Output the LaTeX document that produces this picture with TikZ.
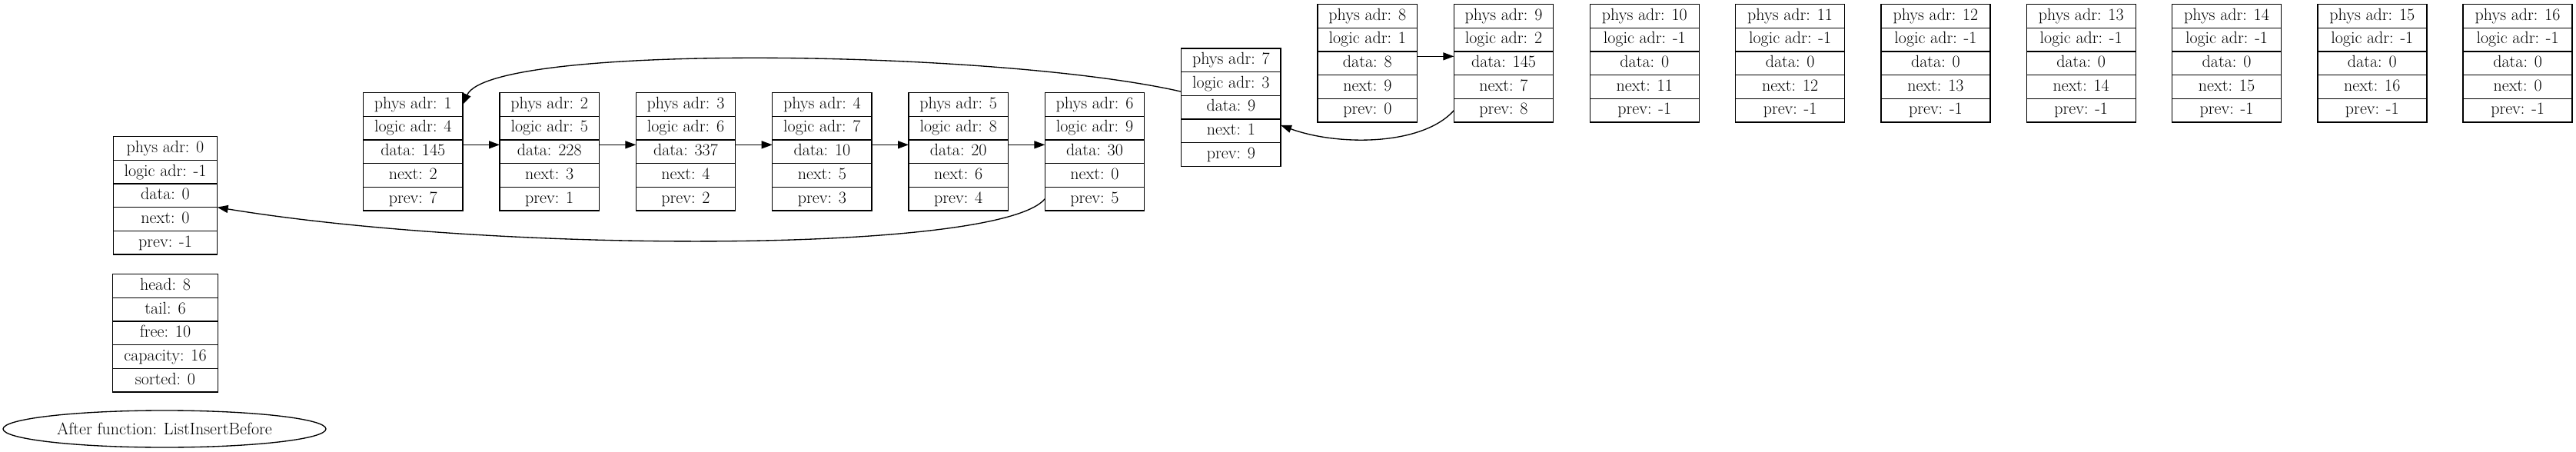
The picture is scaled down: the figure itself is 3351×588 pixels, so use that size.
\documentclass[tikz,border=0pt]{standalone}
\usepackage{tikz}
\usetikzlibrary{positioning, arrows.meta, shapes.geometric}

\tikzset{
  field/.style={draw, line width=1pt, outer sep=0pt, inner xsep=2pt, inner ysep=0pt,
    minimum height=23pt, text height=11.5pt, text depth=3.5pt,
    font=\fontsize{16.5}{19.8}\selectfont},
  ptr/.style={-{Triangle[length=10.5pt, width=7.5pt]}, line width=1pt}
}

% one cell of the list: name, centre of the top row, width, five rows
\newcommand{\listrec}[8]{
  \node[field, minimum width=#3] (#1-1) at (#2) {#4};
  \node[field, minimum width=#3, below=0pt of #1-1] (#1-2) {#5};
  \node[field, minimum width=#3, below=0pt of #1-2] (#1-3) {#6};
  \node[field, minimum width=#3, below=0pt of #1-3] (#1-4) {#7};
  \node[field, minimum width=#3, below=0pt of #1-4] (#1-5) {#8};
}

\begin{document}
\begin{tikzpicture}[x=0.75pt, y=-0.75pt]
    \useasboundingbox (0,0) rectangle (3351,588);

    % Fictive cell and list info
    \listrec{n0}{215,193}{101.5pt}{phys adr: 0}{logic adr: -1}{data: 0}{next: 0}{prev: -1}
    \listrec{info}{215,372}{102.8pt}{head: 8}{tail: 6}{free: 10}{capacity: 16}{sorted: 0}

    % Title
    \node[draw, ellipse, line width=1pt, minimum width=315pt, minimum height=36pt,
          font=\fontsize{16.5}{19.8}\selectfont] (title) at (214,558) {After function: ListInsertBefore};

    % Busy cells
    \listrec{n1}{537.3,136}{97pt}{phys adr: 1}{logic adr: 4}{data: 145}{next: 2}{prev: 7}
    \listrec{n2}{714.7,136}{97pt}{phys adr: 2}{logic adr: 5}{data: 228}{next: 3}{prev: 1}
    \listrec{n3}{892,136}{97pt}{phys adr: 3}{logic adr: 6}{data: 337}{next: 4}{prev: 2}
    \listrec{n4}{1069.4,136}{97pt}{phys adr: 4}{logic adr: 7}{data: 10}{next: 5}{prev: 3}
    \listrec{n5}{1246.7,136}{97pt}{phys adr: 5}{logic adr: 8}{data: 20}{next: 6}{prev: 4}
    \listrec{n6}{1424,136}{97pt}{phys adr: 6}{logic adr: 9}{data: 30}{next: 0}{prev: 5}
    \listrec{n7}{1601.4,78.3}{97pt}{phys adr: 7}{logic adr: 3}{data: 9}{next: 1}{prev: 9}
    \listrec{n8}{1778.8,21}{97pt}{phys adr: 8}{logic adr: 1}{data: 8}{next: 9}{prev: 0}
    \listrec{n9}{1956,21}{97pt}{phys adr: 9}{logic adr: 2}{data: 145}{next: 7}{prev: 8}

    % Free cells
    \listrec{n10}{2139.3,21}{106.5pt}{phys adr: 10}{logic adr: -1}{data: 0}{next: 11}{prev: -1}
    \listrec{n11}{2328.6,21}{106.5pt}{phys adr: 11}{logic adr: -1}{data: 0}{next: 12}{prev: -1}
    \listrec{n12}{2517.9,21}{106.5pt}{phys adr: 12}{logic adr: -1}{data: 0}{next: 13}{prev: -1}
    \listrec{n13}{2707.2,21}{106.5pt}{phys adr: 13}{logic adr: -1}{data: 0}{next: 14}{prev: -1}
    \listrec{n14}{2896.5,21}{106.5pt}{phys adr: 14}{logic adr: -1}{data: 0}{next: 15}{prev: -1}
    \listrec{n15}{3085.8,21}{106.5pt}{phys adr: 15}{logic adr: -1}{data: 0}{next: 16}{prev: -1}
    \listrec{n16}{3275.1,21}{106.5pt}{phys adr: 16}{logic adr: -1}{data: 0}{next: 0}{prev: -1}

    % Straight links
    \draw[ptr] ([yshift=6.75pt]n1-3.east) -- ([yshift=6.75pt]n2-3.west);
    \draw[ptr] ([yshift=6.75pt]n2-3.east) -- ([yshift=6.75pt]n3-3.west);
    \draw[ptr] ([yshift=6.75pt]n3-3.east) -- ([yshift=6.75pt]n4-3.west);
    \draw[ptr] ([yshift=6.75pt]n4-3.east) -- ([yshift=6.75pt]n5-3.west);
    \draw[ptr] ([yshift=6.75pt]n5-3.east) -- ([yshift=6.75pt]n6-3.west);
    \draw[ptr] ([yshift=6.75pt]n8-3.east) -- ([yshift=6.75pt]n9-3.west);

    % Bent links
    \draw[ptr] ([yshift=-7.7pt]n7-2.west) .. controls +(-236.6,-54.3) and +(37,-81) .. (n1-1.east);
    \draw[ptr] (n9-5.west) .. controls +(-41.5,46.3) and +(74,27) .. ([yshift=5.5pt]n7-4.east);
    \draw[ptr] (n6-5.west) .. controls +(-59.4,71.3) and +(367.4,60.3) .. (n0-4.north east);
\end{tikzpicture}
\end{document}
